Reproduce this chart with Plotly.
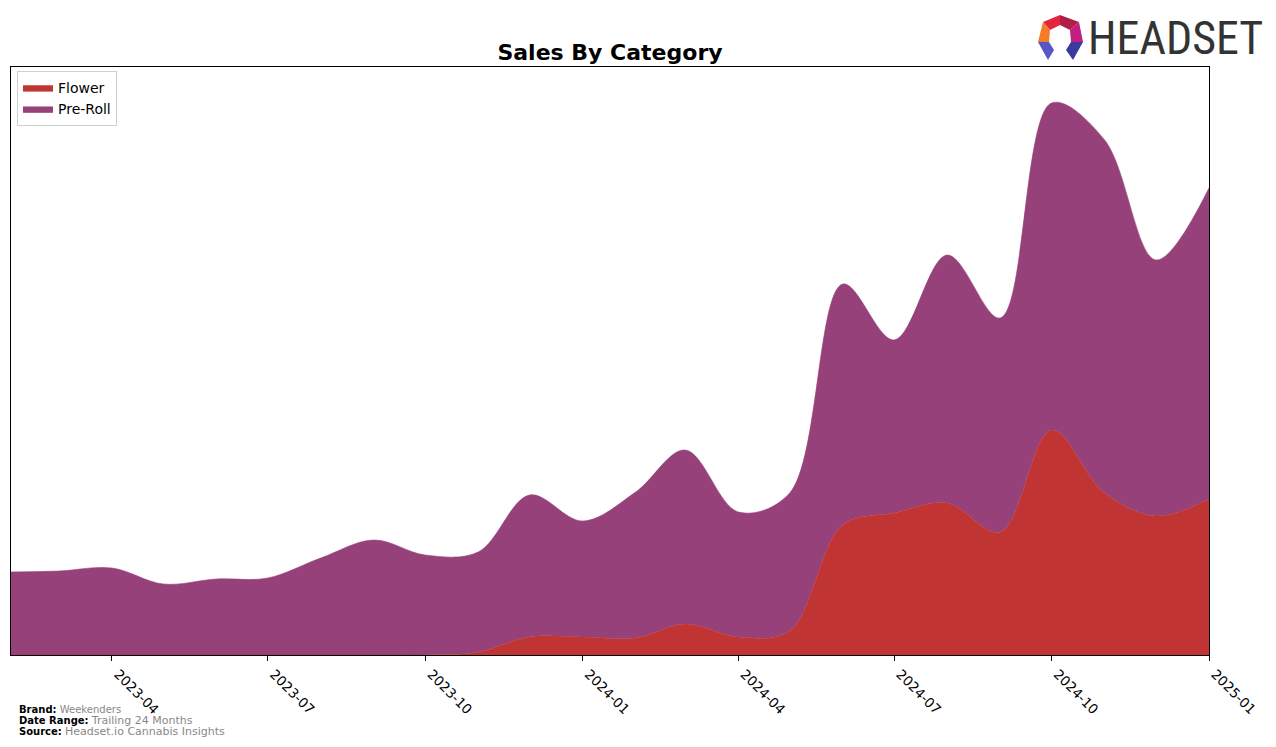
import plotly.graph_objects as go

# ---- data ----
months = ["2023-02-01", "2023-03-01", "2023-04-01", "2023-05-01", "2023-06-01", "2023-07-01",
          "2023-08-01", "2023-09-01", "2023-10-01", "2023-11-01", "2023-12-01", "2024-01-01",
          "2024-02-01", "2024-03-01", "2024-04-01", "2024-05-01", "2024-06-01", "2024-07-01",
          "2024-08-01", "2024-09-01", "2024-10-01", "2024-11-01", "2024-12-01", "2025-01-01"]
flower = [0, 0, 0, 0, 0, 0, 0, 0, 0, 3, 18, 18, 17, 31, 18, 24, 130, 142, 152, 123, 225, 162, 139, 156]
preroll = [83, 84, 87, 71, 76, 77, 97, 115, 100, 100, 142, 116, 146, 174, 125, 138, 241, 173, 248, 214, 327, 353, 256, 311]
tick_vals = ["2023-04-01", "2023-07-01", "2023-10-01", "2024-01-01", "2024-04-01", "2024-07-01", "2024-10-01", "2025-01-01"]
tick_text = ["2023-04", "2023-07", "2023-10", "2024-01", "2024-04", "2024-07", "2024-10", "2025-01"]

FLOWER_C = "#C03434"
PREROLL_C = "#96417A"

W, H = 1276, 747
L, R, T, B = 11, 1209, 67, 655

fig = go.Figure()
fig.add_trace(go.Scatter(x=months, y=flower, name="Flower", stackgroup="one", mode="lines",
                         line=dict(color=FLOWER_C, width=0.6, shape="spline", smoothing=1.0),
                         fillcolor=FLOWER_C))
fig.add_trace(go.Scatter(x=months, y=preroll, name="Pre-Roll", stackgroup="one", mode="lines",
                         line=dict(color=PREROLL_C, width=0.6, shape="spline", smoothing=1.0),
                         fillcolor=PREROLL_C))

def px(x):
    return (x - L) / (R - L)

def py(y):
    return (B - y) / (B - T)

fig.update_layout(
    width=W, height=H,
    margin=dict(l=L, r=W - R, t=T, b=H - B, pad=0),
    paper_bgcolor="white", plot_bgcolor="white",
    font=dict(family="DejaVu Sans", color="black"),
    title=dict(text="<b>Sales By Category</b>", xref="container", x=610 / W, xanchor="center",
               yref="container", y=1 - 52 / H, yanchor="middle", font=dict(size=22, family="DejaVu Sans")),
    showlegend=True,
    legend=dict(x=px(17), y=py(71), xanchor="left", yanchor="top", traceorder="normal",
                bgcolor="white", bordercolor="#D0D0D0", borderwidth=1,
                font=dict(size=14, family="DejaVu Sans"), itemwidth=30),
    xaxis=dict(type="date", range=["2023-02-01", "2025-01-01"], tickvals=tick_vals, ticktext=tick_text,
               ticks="outside", ticklen=5, tickcolor="black", tickangle=45, ticklabelshift=6,
               tickfont=dict(size=13.5, family="DejaVu Sans"),
               showline=True, linecolor="black", linewidth=1, mirror=True, showgrid=False, zeroline=False),
    yaxis=dict(range=[0, B - T], showticklabels=False, ticks="", showline=True, linecolor="black",
               linewidth=1, mirror=True, showgrid=False, zeroline=False),
)

# footer
footer = [
    (709, "Brand:", "Weekenders", 10),
    (720, "Date Range:", "Trailing 24 Months", 11),
    (731, "Source:", "Headset.io Cannabis Insights", 11),
]
for yy, lab, val, vs in footer:
    fig.add_annotation(xref="paper", yref="paper", x=px(18), y=py(yy), xanchor="left", yanchor="middle",
                       showarrow=False, borderpad=0,
                       text=f"<b>{lab}</b> <span style='font-size:{vs}px;color:#888888'>{val}</span>",
                       font=dict(size=10, family="DejaVu Sans", color="black"))

# Headset logo
polys = [
    ([(1043, 22), (1060, 15), (1060, 25), (1050, 30)], "#E3263C"),
    ([(1060, 15), (1079, 22), (1070, 30), (1060, 25)], "#B01E48"),
    ([(1079, 22), (1083, 42), (1071, 42), (1070, 30)], "#C21F80"),
    ([(1043, 22), (1050, 30), (1049, 42), (1038, 42)], "#F47C28"),
    ([(1038, 42), (1049, 42), (1054, 50), (1048, 60)], "#5656C8"),
    ([(1083, 42), (1071, 42), (1066, 50), (1073, 60)], "#3A3AA0"),
]
for pts, col in polys:
    path = "M " + " L ".join(f"{px(a):.5f},{py(b):.5f}" for a, b in pts) + " Z"
    fig.add_shape(type="path", xref="paper", yref="paper", path=path, fillcolor=col, line=dict(width=0))

fig.add_annotation(xref="paper", yref="paper", x=px(1175), y=py(38), xanchor="center", yanchor="middle",
                   showarrow=False, text="HEADSET",
                   font=dict(size=46, family="Liberation Sans Narrow, Roboto Condensed, Arial Narrow, sans-serif",
                             color="#333333"))

fig.write_html("out.html")
